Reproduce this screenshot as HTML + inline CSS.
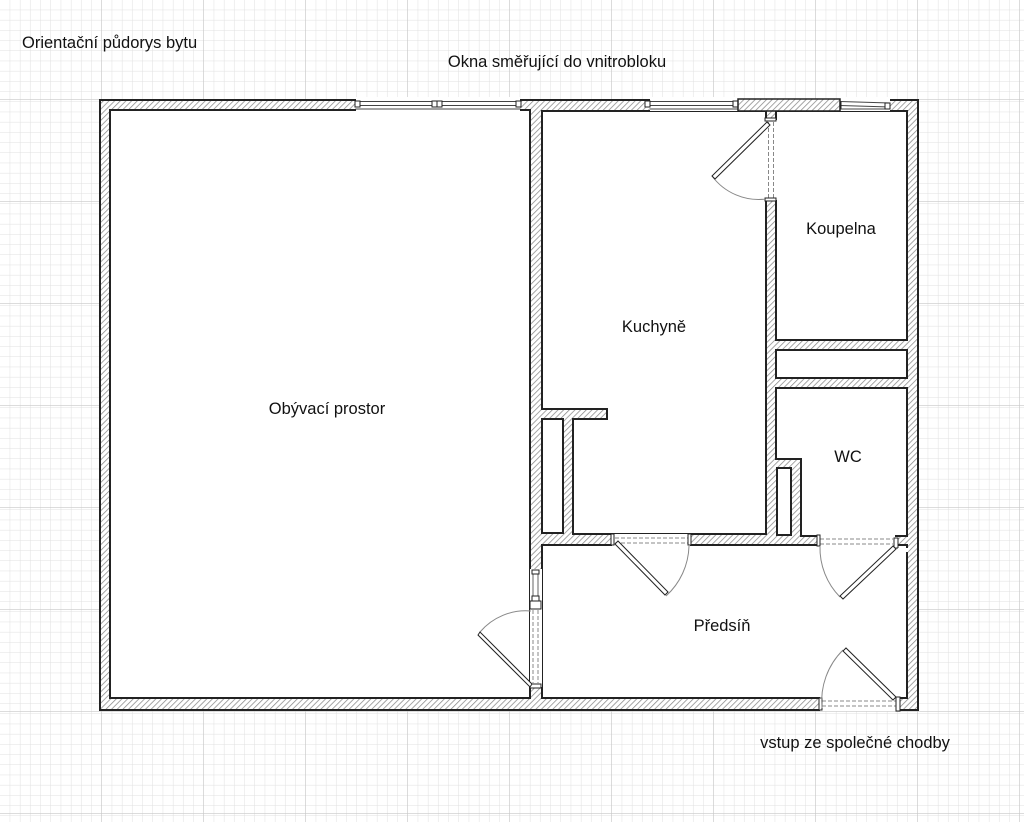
<!DOCTYPE html>
<html><head><meta charset="utf-8"><style>
html,body{margin:0;padding:0;background:#fff}
svg{display:block}
text{font-family:"Liberation Sans",sans-serif;fill:#111}
</style></head><body>
<svg width="1024" height="822" viewBox="0 0 1024 822" xmlns="http://www.w3.org/2000/svg">
<defs>
<pattern id="g" width="10.2" height="10.2" patternUnits="userSpaceOnUse" x="0" y="0">
<path d="M10.2 0V10.2H0" fill="none" stroke="#e0e0e0" stroke-width="1"/>
</pattern>
<pattern id="G" width="102" height="102" patternUnits="userSpaceOnUse" x="0" y="-2">
<path d="M102 0V102H0" fill="none" stroke="#c8c8c8" stroke-width="1.3"/>
</pattern>
<pattern id="h" width="4" height="4" patternUnits="userSpaceOnUse" patternTransform="rotate(45)">
<rect width="4" height="4" fill="#fff"/>
<line x1="0" y1="0" x2="0" y2="4" stroke="#888" stroke-width="1.5"/>
</pattern>
</defs>
<rect width="1024" height="822" fill="#fff"/>
<rect width="1024" height="822" fill="url(#g)"/>
<rect width="1024" height="822" fill="url(#G)"/>

<rect x="100" y="100" width="818" height="610" fill="url(#h)" stroke="#222" stroke-width="2"/>

<g fill="#fff" stroke="#222" stroke-width="2">
<rect x="110" y="110" width="420" height="588"/>
<path d="M542 111 H766 V534 H573 V419 H607 V409 H542 Z"/>
<rect x="542" y="419" width="21" height="114"/>
<rect x="776" y="111" width="131" height="229"/>
<rect x="776" y="350" width="131" height="28"/>
<path d="M776 388 H907 V536 H801 V459 H776 Z"/>
<rect x="777" y="468" width="14" height="67"/>
<path d="M542 545 H907 V698 H542 Z"/>
</g>

<g>
<rect x="356" y="97" width="164" height="14" fill="#fff"/>
<rect x="650" y="97" width="88" height="14" fill="#fff"/>
<rect x="840" y="97" width="50" height="14" fill="#fff"/>
<g stroke="#444" stroke-width="1" fill="none">
<path d="M356 101.5H520M356 105.5H520M356 109H520"/>
<path d="M650 101.5H738M650 105.5H738M650 109H738"/>
<path d="M840 101.5L890 103M840 105.5L890 107M840 109H890"/>
</g>
<g fill="#fff" stroke="#222" stroke-width="1">
<rect x="355" y="101" width="5" height="6"/>
<rect x="432" y="101" width="5" height="6"/><rect x="437" y="101" width="5" height="6"/>
<rect x="516" y="101" width="5" height="6"/>
<rect x="645" y="101" width="5" height="6"/>
<rect x="733" y="101" width="5" height="6"/>
<rect x="836" y="102" width="5" height="6"/>
<rect x="885" y="103" width="5" height="6"/>
</g>
<path d="M738 99 H840 V111 H738Z" fill="url(#h)" stroke="#222" stroke-width="1.5"/>
</g>

<rect x="765" y="120" width="12" height="80" fill="#fff"/>
<g stroke="#888" stroke-width="1" stroke-dasharray="4,2"><path d="M768.5 122V198M773.5 122V198"/></g>
<g fill="#fff" stroke="#222" stroke-width="1"><rect x="765" y="118" width="11" height="3"/><rect x="765" y="198" width="11" height="3"/></g>
<path d="M712 176 A58 58 0 0 0 766 199" fill="none" stroke="#888"/>
<path d="M767 122 L712 176 L715 179 L770 125Z" fill="#fff" stroke="#222" stroke-width="1"/>

<rect x="530" y="569" width="12" height="118" fill="#fff"/>
<g stroke="#666" stroke-width="1"><path d="M533 574V598M538 574V598"/></g>
<g fill="#fff" stroke="#222" stroke-width="1"><rect x="532" y="570" width="7" height="4"/><rect x="532" y="596" width="7" height="5"/><rect x="530" y="601" width="11" height="8"/><rect x="530" y="684" width="11" height="4"/></g>
<g stroke="#888" stroke-width="1" stroke-dasharray="4,2"><path d="M533 610V684M538 610V684"/></g>
<path d="M480 632 A60 60 0 0 1 531 611" fill="none" stroke="#888"/>
<path d="M532 684 L480 632 L478 635 L530 687Z" fill="#fff" stroke="#222" stroke-width="1"/>

<rect x="612" y="534" width="78" height="12" fill="#fff"/>
<g stroke="#888" stroke-width="1" stroke-dasharray="4,2"><path d="M615 538H689M615 543H689"/></g>
<g fill="#fff" stroke="#222" stroke-width="1"><rect x="611" y="534" width="3" height="11"/><rect x="688" y="534" width="3" height="11"/></g>
<path d="M666 596 A70 70 0 0 0 689 546" fill="none" stroke="#888"/>
<path d="M615 544 L665 595 L668 592 L618 541Z" fill="#fff" stroke="#222" stroke-width="1"/>

<rect x="818" y="535" width="77" height="12" fill="#fff"/>
<g stroke="#888" stroke-width="1" stroke-dasharray="4,2"><path d="M820 539H893M820 544H893"/></g>
<g fill="#fff" stroke="#222" stroke-width="1"><rect x="817" y="535" width="3" height="11"/><rect x="894" y="538" width="4" height="10"/></g>
<path d="M820 546 A70 70 0 0 0 840 597" fill="none" stroke="#888"/>
<path d="M893 546 L840 596 L843 599 L896 549Z" fill="#fff" stroke="#222" stroke-width="1"/>
<rect x="898" y="548" width="10" height="4" fill="#fff"/>

<rect x="820" y="697" width="78" height="14" fill="#fff"/>
<g stroke="#888" stroke-width="1" stroke-dasharray="4,2"><path d="M822 701H896M822 706H896"/></g>
<g fill="#fff" stroke="#222" stroke-width="1"><rect x="819" y="698" width="3" height="12"/><rect x="896" y="697" width="4" height="14"/></g>
<path d="M843 650 A72 72 0 0 0 822 708" fill="none" stroke="#888"/>
<path d="M896 697 L846 648 L843 651 L893 700Z" fill="#fff" stroke="#222" stroke-width="1"/>

<g font-size="16.5">
<text x="22" y="48">Orientační půdorys bytu</text>
<text x="557" y="67" text-anchor="middle">Okna směřující do vnitrobloku</text>
<text x="327" y="414" text-anchor="middle">Obývací prostor</text>
<text x="654" y="332" text-anchor="middle">Kuchyně</text>
<text x="841" y="234" text-anchor="middle">Koupelna</text>
<text x="848" y="462" text-anchor="middle">WC</text>
<text x="722" y="631" text-anchor="middle">Předsíň</text>
<text x="855" y="748" text-anchor="middle">vstup ze společné chodby</text>
</g>
</svg>
</body></html>
